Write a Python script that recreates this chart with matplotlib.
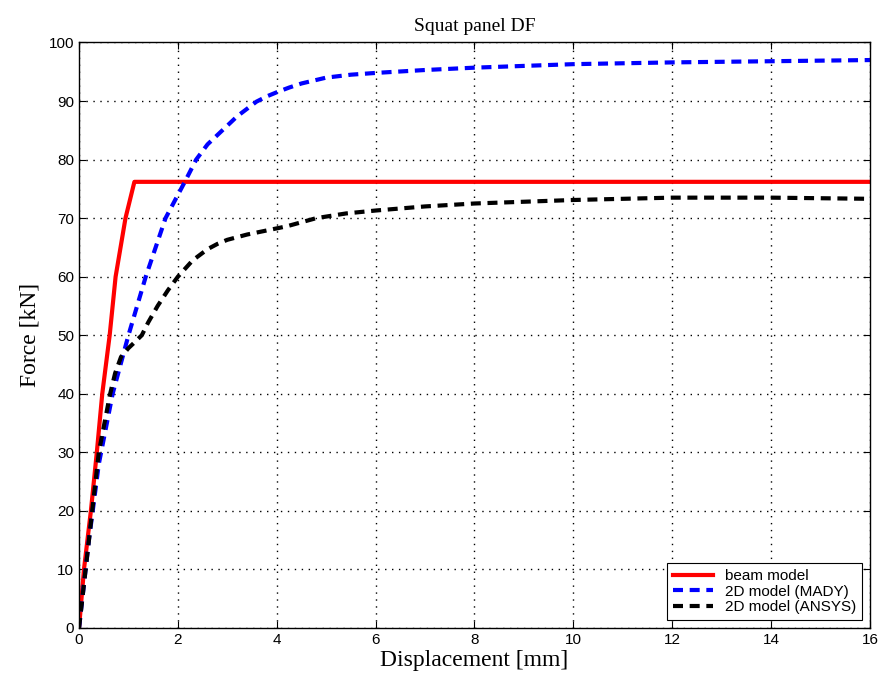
import matplotlib
matplotlib.use('Agg')
import matplotlib.pyplot as plt

# Force-displacement curves for the squat panel
beam_disp = [0, 0.1, 0.24, 0.36, 0.47, 0.62, 0.74, 0.94, 1.12, 16]
beam_force = [0, 10, 20, 30, 40, 50, 60, 70, 76.2, 76.2]

mady_disp = [0, 0.2, 0.4, 0.68, 1.0, 1.35, 1.75, 2.14, 2.37, 2.6, 2.9, 3.2, 3.59,
             3.8, 4.0, 4.25, 4.5, 5.0, 5.5, 6.0, 7.0, 8.0, 10.0, 12.0, 14.0, 16.0]
mady_force = [0, 15, 28, 40, 50, 60, 70, 76.2, 80, 82.6, 85, 87.4, 89.9,
              90.8, 91.5, 92.3, 93, 94, 94.5, 94.8, 95.3, 95.7, 96.3, 96.6, 96.8, 97.0]

ansys_disp = [0, 0.2, 0.4, 0.63, 0.73, 0.85, 1.0, 1.1, 1.27, 1.4, 1.59, 1.8, 2.0,
              2.3, 2.6, 2.8, 3.0, 3.4, 3.8, 4.2, 4.8, 5.4, 6.0, 7.0, 8.0, 10.0,
              12.0, 14.0, 16.0]
ansys_force = [0, 15, 30, 40, 43.5, 46.3, 47.8, 48.6, 50, 52.2, 55, 57.7, 60,
               62.8, 64.7, 65.6, 66.3, 67.2, 67.9, 68.6, 70, 70.8, 71.3, 72, 72.5,
               73.1, 73.5, 73.5, 73.3]

fig = plt.figure(figsize=(8.8, 6.82), dpi=100)
ax = fig.add_axes([0.0898, 0.0792, 0.8988, 0.8585])

ax.plot(beam_disp, beam_force, color='red', lw=3, label='beam model')
ax.plot(mady_disp, mady_force, color='blue', lw=3, dashes=(2.4, 1.6),
        label='2D model (MADY)')
ax.plot(ansys_disp, ansys_force, color='black', lw=3, dashes=(2.4, 1.6),
        label='2D model (ANSYS)')

ax.set_xlim(0, 16)
ax.set_ylim(0, 100)
ax.set_xticks(range(0, 17, 2))
ax.set_yticks(range(0, 101, 10))
ax.grid(True, color='black', linestyle=(0, (1, 4)), linewidth=1.0)
ax.tick_params(direction='in', top=True, right=True, length=5)
for lbl in ax.get_xticklabels() + ax.get_yticklabels():
    lbl.set_fontfamily('Liberation Sans')
    lbl.set_fontsize(11)
for sp in ax.spines.values():
    sp.set_linewidth(1.0)

serif = 'Liberation Serif'
ax.set_title('Squat panel DF', fontfamily=serif, fontsize=14, pad=8)
ax.set_xlabel('Displacement [mm]', fontfamily=serif, fontsize=17, labelpad=2)
ax.set_ylabel('Force [kN]', fontfamily=serif, fontsize=17, labelpad=6)

leg = ax.legend(loc='lower right', prop={'family': 'Liberation Sans', 'size': 11},
                frameon=True, fancybox=False, edgecolor='black', framealpha=1,
                handlelength=2.6, borderaxespad=0.5, labelspacing=0.1)
leg.get_frame().set_linewidth(0.8)

fig.savefig('out.png', dpi=100)
